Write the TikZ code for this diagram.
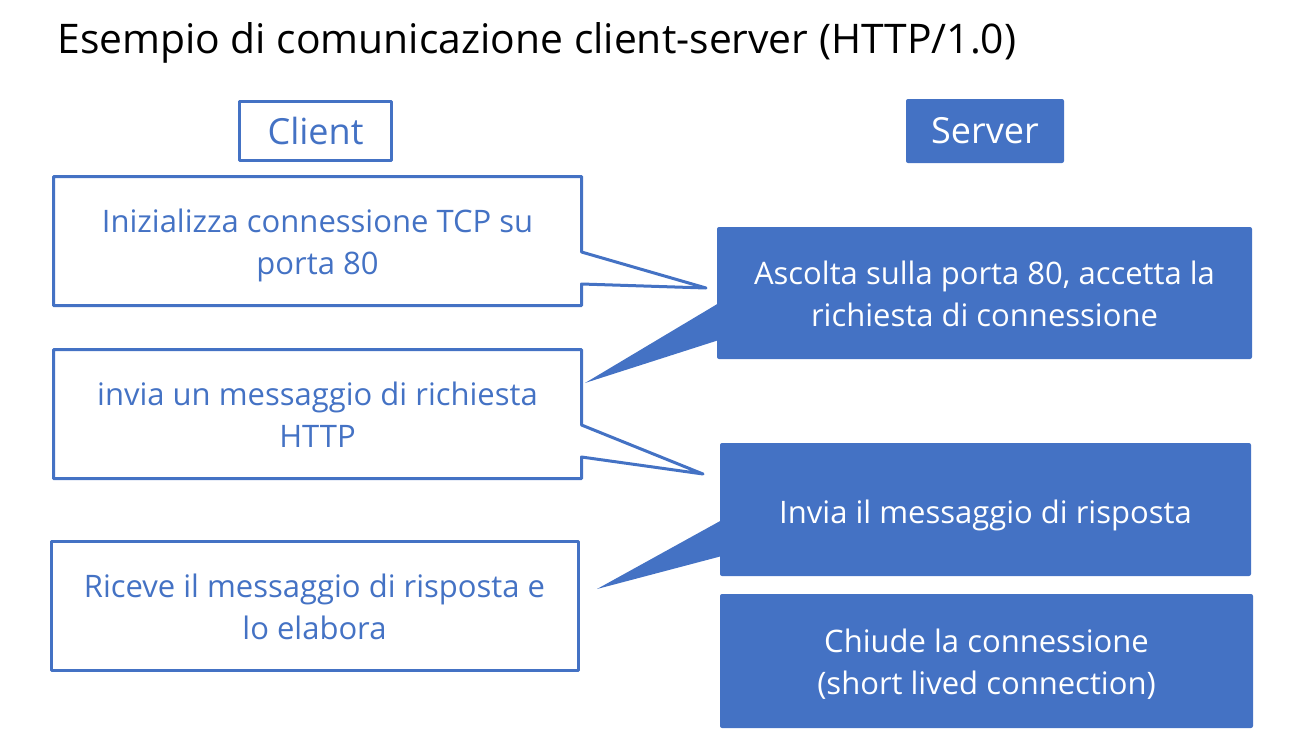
\documentclass[tikz,border=0pt]{standalone}
\usepackage{fontspec}
\setmainfont{Open Sans}
\usetikzlibrary{calc}
\definecolor{HTTPblue}{HTML}{4472C4}
\tikzset{clibox/.style={outer sep=0pt,inner sep=0pt,align=center,text=HTTPblue,
 text height=40pt,text depth=6.5pt,font=\fontsize{15.5}{21}\selectfont},
 srvbox/.style={fill=HTTPblue,rounded corners=1pt,outer sep=0pt,inner sep=0pt,
 align=center,text=white,text height=40pt,text depth=6.5pt,font=\fontsize{15.5}{21}\selectfont},
 headbox/.style={outer sep=0pt,inner sep=0pt,font=\fontsize{18}{22}\selectfont},
 cliline/.style={draw=HTTPblue,line width=1.5pt,line join=round},
 srvtail/.style={fill=HTTPblue,line join=round}}
\begin{document}
\begin{tikzpicture}[x=0.5pt,y=-0.5pt]
\useasboundingbox (0,0) rectangle (1314,750);
\node[anchor=base west,inner sep=0pt,font=\fontsize{20.4}{24}\selectfont] (title) at (57,53)
 {Esempio di comunicazione client-server (HTTP/1.0)};
% column headers
\node[headbox,cliline,text=HTTPblue,minimum width=76pt,minimum height=29.5pt] (client) at (315.5,131) {Client};
\node[headbox,fill=HTTPblue,rounded corners=1pt,text=white,minimum width=79pt,minimum height=32pt] (server) at (985,131) {Server};
% client side
\node[clibox,minimum width=264pt,minimum height=64.5pt] (connect) at (317.5,241) {Inizializza connessione TCP su\\porta 80};
\node[clibox,minimum width=264pt,minimum height=64.5pt] (request) at (317.5,414) {invia un messaggio di richiesta\\HTTP};
\node[clibox,cliline,minimum width=263.5pt,minimum height=64.5pt] (receive) at (314.5,606) {Riceve il messaggio di risposta e\\lo elabora};
\coordinate (connect tip) at (706,288);
\coordinate (request tip) at (703,474);
\draw[cliline] (connect.north west) -- (connect.north east) -- ($(connect.east)+(0,11)$) -- (connect tip)
 -- ($(connect.east)+(0,43)$) -- (connect.south east) -- (connect.south west) -- cycle;
\draw[cliline] (request.north west) -- (request.north east) -- ($(request.east)+(0,11)$) -- (request tip)
 -- ($(request.east)+(0,43)$) -- (request.south east) -- (request.south west) -- cycle;
% server side
\node[srvbox,minimum width=267.5pt,minimum height=66pt] (listen) at (984.5,293) {Ascolta sulla porta 80, accetta la\\richiesta di connessione};
\node[srvbox,text height=16.5pt,text depth=3pt,minimum width=265.5pt,minimum height=66.5pt] (reply) at (985.5,509.5) {Invia il messaggio di risposta};
\node[srvbox,minimum width=266.5pt,minimum height=67pt] (close) at (986.5,661) {Chiude la connessione\\(short lived connection)};
\coordinate (listen tip) at (585,383);
\coordinate (reply tip) at (597,589);
\fill[srvtail] ($(listen.west)+(2,10)$) -- (listen tip) -- ($(listen.west)+(2,47)$) -- cycle;
\fill[srvtail] ($(reply.west)+(2,10.5)$) -- (reply tip) -- ($(reply.west)+(2,46.5)$) -- cycle;
\end{tikzpicture}
\end{document}
